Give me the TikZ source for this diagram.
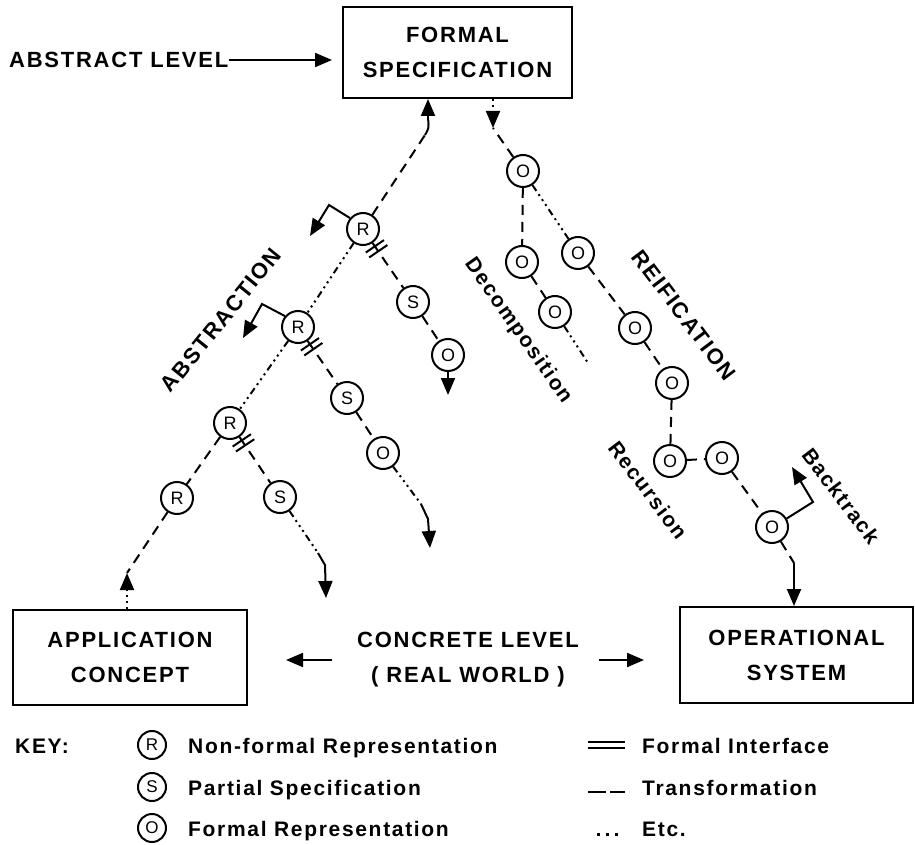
\documentclass[tikz,border=0pt]{standalone}
\usepackage{fontspec}
\setmainfont{Liberation Sans}[LetterSpace=8]
\newfontfamily\cfont{Liberation Sans}
\usetikzlibrary{arrows.meta,decorations.markings,calc}
\begin{document}
\begin{tikzpicture}[x=1pt,y=-1pt,
  every node/.style={inner sep=0pt},
  lw/.style={line width=2pt},
  tip/.style={-{Triangle[length=17pt,width=14pt]}},
  big/.style={font=\bfseries\fontsize{22}{35}\selectfont, align=center},
  lab/.style={font=\bfseries\fontsize{21}{24}\selectfont},
  keytxt/.style={font=\bfseries\fontsize{21}{24}\selectfont, anchor=base west},
  box/.style={draw, line width=2pt, big},
  nd/.style={circle, draw, line width=2pt, minimum size=32pt, font=\cfont\fontsize{18}{18}\selectfont},
  kc/.style={circle, draw, line width=2pt, minimum size=28pt, font=\cfont\fontsize{17}{17}\selectfont},
  tr/.style={lw, dash pattern=on 10pt off 7pt},
  et/.style={lw, dash pattern=on 7pt off 4pt on 2pt off 4pt on 2pt off 4pt on 2pt off 4pt},
  iface/.style={postaction=decorate, decoration={markings, mark=at position #1 with {\draw[solid, line width=2pt] (-3pt,-11pt) -- (-3pt,11pt) (3pt,-11pt) -- (3pt,11pt);}}}
]
\useasboundingbox (0,0) rectangle (915,845);

% boxes
\node[box, minimum width=229pt, minimum height=91pt] (fs) at (457.5,52.5) {FORMAL\\SPECIFICATION};
\node[box, minimum width=234pt, minimum height=95pt] (app) at (130,657.5) {APPLICATION\\CONCEPT};
\node[box, minimum width=233pt, minimum height=96pt] (os) at (796.5,655) {OPERATIONAL\\SYSTEM};
\node[big] (conc) at (468,660) {CONCRETE LEVEL\\( REAL WORLD )};
\node[big, anchor=west] (abs) at (9,60) {ABSTRACT LEVEL};

\draw[lw, tip] (abs.east) -- ([xshift=-10pt]abs.east -| fs.west);
\draw[lw, tip] ([xshift=-25pt]conc.west) -- ([xshift=38pt]app.east |- conc.west);
\draw[lw, tip] ([xshift=20pt]conc.east) -- ([xshift=-35pt]os.west |- conc.east);

% left tree
\node[nd] (R1) at (363,229) {R};
\node[nd] (S1) at (413,302) {S};
\node[nd] (O1) at (448,355) {O};
\node[nd] (R2) at (298,327) {R};
\node[nd] (S2) at (347,398) {S};
\node[nd] (O2) at (383,453) {O};
\node[nd] (R3) at (230,423) {R};
\node[nd] (S3) at (280,497) {S};
\node[nd] (R4) at (177,498) {R};

\coordinate (upin) at (428,118);
\coordinate (c1) at (425,135);
\draw[tr] (R1) -- (c1);
\draw[lw] (c1) .. controls (429,128) .. (upin);
\draw[lw, tip] (upin) -- (upin |- fs.south);

\draw[lw, tip] (R1.140) -- (329,205) -- (310,236);
\draw[lw, tip] (R2.140) -- (262,304) -- (243,338);

\draw[tr, iface=7pt] (R1) -- (S1);
\draw[tr] (S1) -- (O1);
\draw[lw, tip] (O1) -- (448,395);

\draw[et] (R1) -- (R2);
\draw[tr, iface=7pt] (R2) -- (S2);
\draw[tr] (S2) -- (O2);
\coordinate (e2) at (421,504);
\draw[et] (O2) -- (e2);
\draw[lw, tip] (e2) -- (428,519) -- (430,548);

\draw[et] (R2) -- (R3);
\draw[tr, iface=7pt] (R3) -- (S3);
\coordinate (e3) at (318,553);
\draw[et] (S3) -- (e3);
\draw[lw, tip] (e3) -- (325,565) -- (326,598);

\draw[tr] (R3) -- (R4);
\coordinate (upa) at (127,573);
\draw[tr] (R4) -- (upa);
\draw[lw, dash pattern=on 2pt off 4pt, tip] (upa |- app.north) -- (upa);

% right tree
\node[nd] (Oa) at (523,171) {O};
\node[nd] (Ob) at (522,262) {O};
\node[nd] (Oc) at (555,312) {O};
\node[nd] (Od) at (578,253) {O};
\node[nd] (Oe) at (635,328) {O};
\node[nd] (Of) at (672,383) {O};
\node[nd] (Og) at (670,461) {O};
\node[nd] (Oh) at (722,458) {O};
\node[nd] (Oi) at (772,527) {O};

\coordinate (dn) at (493,128);
\draw[lw, dash pattern=on 2pt off 4pt, tip] (dn |- fs.south) -- (dn);
\draw[tr] (Oa) -- (dn);
\draw[tr] (Oa) -- (Ob);
\draw[tr] (Ob) -- (Oc);
\coordinate (e4) at (588,363);
\draw[et] (Oc) -- (e4);
\draw[et] (Oa) -- (Od);
\draw[tr] (Od) -- (Oe);
\draw[tr] (Oe) -- (Of);
\draw[tr] (Of) -- (Og);
\draw[tr] (Og) -- (Oh);
\draw[tr] (Oh) -- (Oi);
\draw[lw, tip] (Oi.30) -- (813,502) -- (792,467);
\coordinate (bk) at (794,563);
\draw[tr] (Oi) -- (bk);
\draw[lw, tip] (bk) -- (bk |- os.north);

% labels
\node[lab, font=\bfseries\fontsize{22}{24}\selectfont, rotate=51] (labA) at (221,320) {ABSTRACTION};
\node[lab, rotate=-55] (labD) at (518,331) {Decomposition};
\node[lab, font=\bfseries\fontsize{22}{24}\selectfont, rotate=-53] (labR) at (684,315) {REIFICATION};
\node[lab, rotate=-53] (labRc) at (648,490) {Recursion};
\node[lab, rotate=-53] (labB) at (841,496) {Backtrack};

% key
\node[keytxt] (key) at (15,753) {KEY:};
\node[kc] (kR) at (152,745) {R};
\node[kc] (kS) at (152,787) {S};
\node[kc] (kO) at (152,828) {O};
\node[keytxt] (kRt) at (188,753) {Non-formal Representation};
\node[keytxt] (kSt) at (188,795) {Partial Specification};
\node[keytxt] (kOt) at (188,836) {Formal Representation};
\node[keytxt] (kIt) at (642,753) {Formal Interface};
\node[keytxt] (kTt) at (642,795) {Transformation};
\node[keytxt] (kEt) at (642,836) {Etc.};
\draw[lw] (588,742) -- (625,742) (588,748) -- (625,748);
\draw[lw] (588,792) -- (606,792) (610,792) -- (625,792);
\draw[line width=3pt, dash pattern=on 3pt off 6pt] (597,834) -- (622,834);
\end{tikzpicture}
\end{document}
